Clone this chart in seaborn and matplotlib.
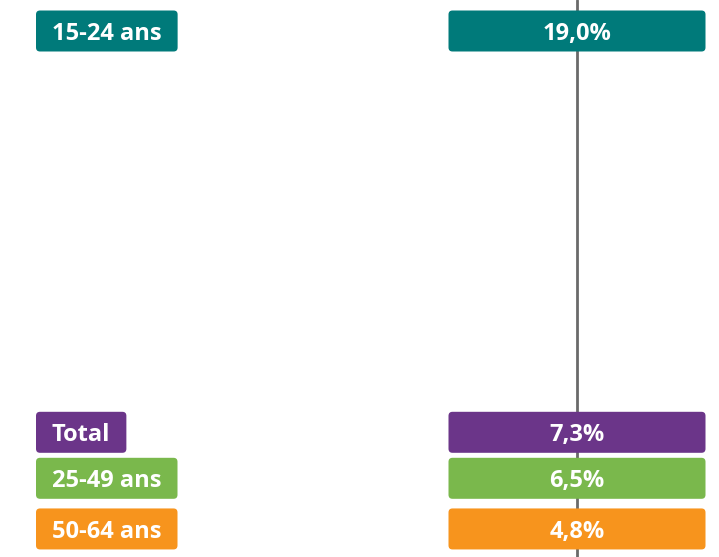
import matplotlib
matplotlib.use("Agg")
import matplotlib.pyplot as plt
from matplotlib.patches import FancyBboxPatch
import seaborn as sns
import numpy as np

# ---- data ----
categories = ["15-24 ans", "Total", "25-49 ans", "50-64 ans"]
values = [19.0, 7.3, 6.5, 4.8]
value_labels = ["19,0%", "7,3%", "6,5%", "4,8%"]
colors = ["#007a7a", "#6b3589", "#7ab84c", "#f7941d"]

sns.set_theme(style="white")
plt.rcParams["font.family"] = ["Open Sans", "DejaVu Sans"]

W, H = 719, 557
fig = plt.figure(figsize=(W / 100, H / 100), dpi=100)
ax = fig.add_axes([0, 0, 1, 1])
ax.set_xlim(0, W)
ylo, yhi = 4.0, 19.884
ax.set_ylim(ylo, yhi)
px_per_unit = H / (yhi - ylo)

box_h = 41 / px_per_unit
min_gap = 46 / px_per_unit

# collision resolution of label positions (data units)
order = np.argsort(values)[::-1]
pos = {i: values[i] for i in order}
for _ in range(50):
    moved = False
    for a, b in zip(order[:-1], order[1:]):
        if pos[a] - pos[b] < min_gap - 1e-9:
            mid = (pos[a] + pos[b]) / 2
            pos[a] = mid + min_gap / 2
            pos[b] = mid - min_gap / 2
            moved = True
    if not moved:
        break

line_x = 577
ax.axvline(line_x, color="#6a6a6a", lw=2, zorder=1)

aspect = 1 / px_per_unit
renderer = fig.canvas.get_renderer()
val_w = 257
left_x = 36
pad = 16
fs = 17
for i, (cat, lab, col) in enumerate(zip(categories, value_labels, colors)):
    yc = pos[i]
    # value box
    ax.add_patch(FancyBboxPatch((line_x - val_w / 2, yc - box_h / 2), val_w, box_h,
                                boxstyle="round,pad=0,rounding_size=4",
                                mutation_aspect=aspect, fc=col, ec="none", zorder=2))
    ax.text(line_x, yc, lab, ha="center", va="center_baseline", color="white",
            fontsize=fs, fontweight="bold", zorder=3)
    # category box
    t = ax.text(left_x + pad, yc, cat, ha="left", va="center_baseline", color="white",
                fontsize=fs, fontweight="bold", zorder=3)
    tw = t.get_window_extent(renderer).width
    ax.add_patch(FancyBboxPatch((left_x, yc - box_h / 2), tw + 2 * pad, box_h,
                                boxstyle="round,pad=0,rounding_size=4",
                                mutation_aspect=aspect, fc=col, ec="none", zorder=2))

ax.set_xticks([])
ax.set_yticks([])
sns.despine(ax=ax, left=True, bottom=True)
fig.savefig("out.png", dpi=100)
